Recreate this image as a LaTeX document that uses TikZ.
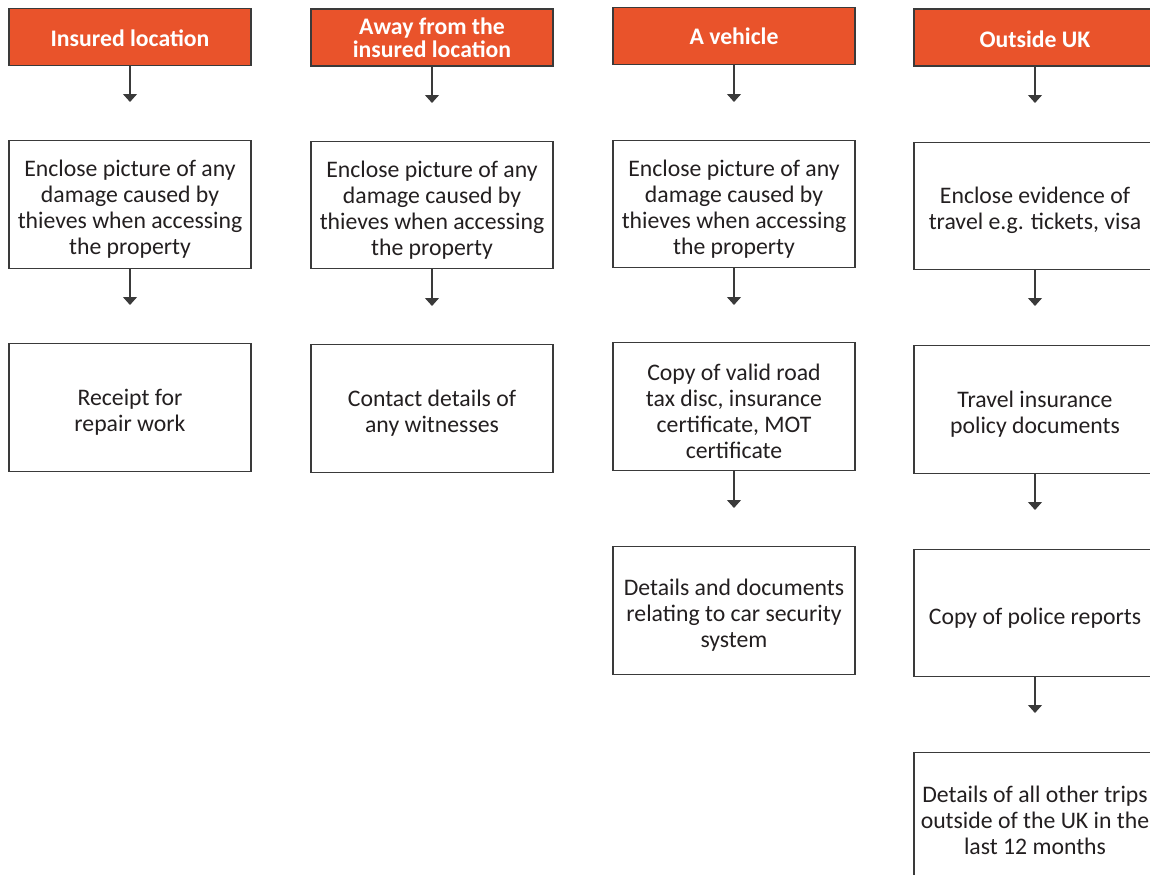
\documentclass[tikz,border=0pt]{standalone}
\usepackage{fontspec}
\setmainfont{Carlito}
\usetikzlibrary{arrows.meta}
\definecolor{hdr}{HTML}{E9532B}
\definecolor{edge}{HTML}{3A3A3A}
\definecolor{txt}{HTML}{231F20}
\newcommand{\tallstrut}{\rule{0pt}{19.5pt}}
\begin{document}
\begin{tikzpicture}[x=0.75pt,y=-0.75pt,
  hdrbox/.style={draw=edge,line width=0.8pt,fill=hdr,text=white,font=\bfseries\fontsize{17.8}{17.5}\selectfont,
    minimum width=181.5pt,minimum height=42.75pt,align=center,inner sep=0pt},
  infobox/.style={draw=edge,line width=0.8pt,fill=white,text=txt,font=\fontsize{17.8}{19.5}\selectfont,
    minimum width=181.5pt,minimum height=95.5pt,align=center,inner sep=0pt},
  flow/.style={draw=edge,line width=0.8pt,-{Triangle[width=10.5pt,length=6pt]}}]
\useasboundingbox (0,0) rectangle (1150,875);
\clip (0,0) rectangle (1150,875);
% column 1
\node[hdrbox] (h1) at (130,37) {\rule{0pt}{14.5pt}Insured location};
\node[infobox] (a1) at (130,204.5) {\tallstrut Enclose picture of any\\damage caused by\\thieves when accessing\\the property};
\node[infobox] (b1) at (130,407.5) {\tallstrut Receipt for\\repair work};
\coordinate (t1a) at (130,102);
\coordinate (t1b) at (130,305);
\draw[flow] (h1.south) -- (t1a);
\draw[flow] (a1.south) -- (t1b);
% column 2
\node[hdrbox] (h2) at (432,37.5) {Away from the\\insured location};
\node[infobox] (a2) at (432,205) {\tallstrut Enclose picture of any\\damage caused by\\thieves when accessing\\the property};
\node[infobox] (b2) at (432,408.5) {\tallstrut Contact details of\\any witnesses};
\coordinate (t2a) at (432,103);
\coordinate (t2b) at (432,306);
\draw[flow] (h2.south) -- (t2a);
\draw[flow] (a2.south) -- (t2b);
% column 3
\node[hdrbox] (h3) at (734,36) {A vehicle};
\node[infobox] (a3) at (734,204) {\tallstrut Enclose picture of any\\damage caused by\\thieves when accessing\\the property};
\node[infobox] (b3) at (734,406.5) {\tallstrut Copy of valid road\\tax disc, insurance\\certificate, MOT\\certificate};
\node[infobox] (c3) at (734,610.5) {\tallstrut Details and documents\\relating to car security\\system};
\coordinate (t3a) at (734,102);
\coordinate (t3b) at (734,305);
\coordinate (t3c) at (734,508);
\draw[flow] (h3.south) -- (t3a);
\draw[flow] (a3.south) -- (t3b);
\draw[flow] (b3.south) -- (t3c);
% column 4
\node[hdrbox] (h4) at (1035,37.5) {\rule{0pt}{15.5pt}Outside UK};
\node[infobox] (a4) at (1035,206) {\tallstrut Enclose evidence of\\travel e.g. tickets, visa};
\node[infobox] (b4) at (1035,409.5) {\tallstrut Travel insurance\\policy documents};
\node[infobox] (c4) at (1035,613) {\tallstrut Copy of police reports};
\node[infobox] (d4) at (1035,816) {\tallstrut Details of all other trips\\outside of the UK in the\\last 12 months};
\coordinate (t4a) at (1035,103);
\coordinate (t4b) at (1035,306);
\coordinate (t4c) at (1035,510);
\coordinate (t4d) at (1035,713);
\draw[flow] (h4.south) -- (t4a);
\draw[flow] (a4.south) -- (t4b);
\draw[flow] (b4.south) -- (t4c);
\draw[flow] (c4.south) -- (t4d);
\end{tikzpicture}
\end{document}
